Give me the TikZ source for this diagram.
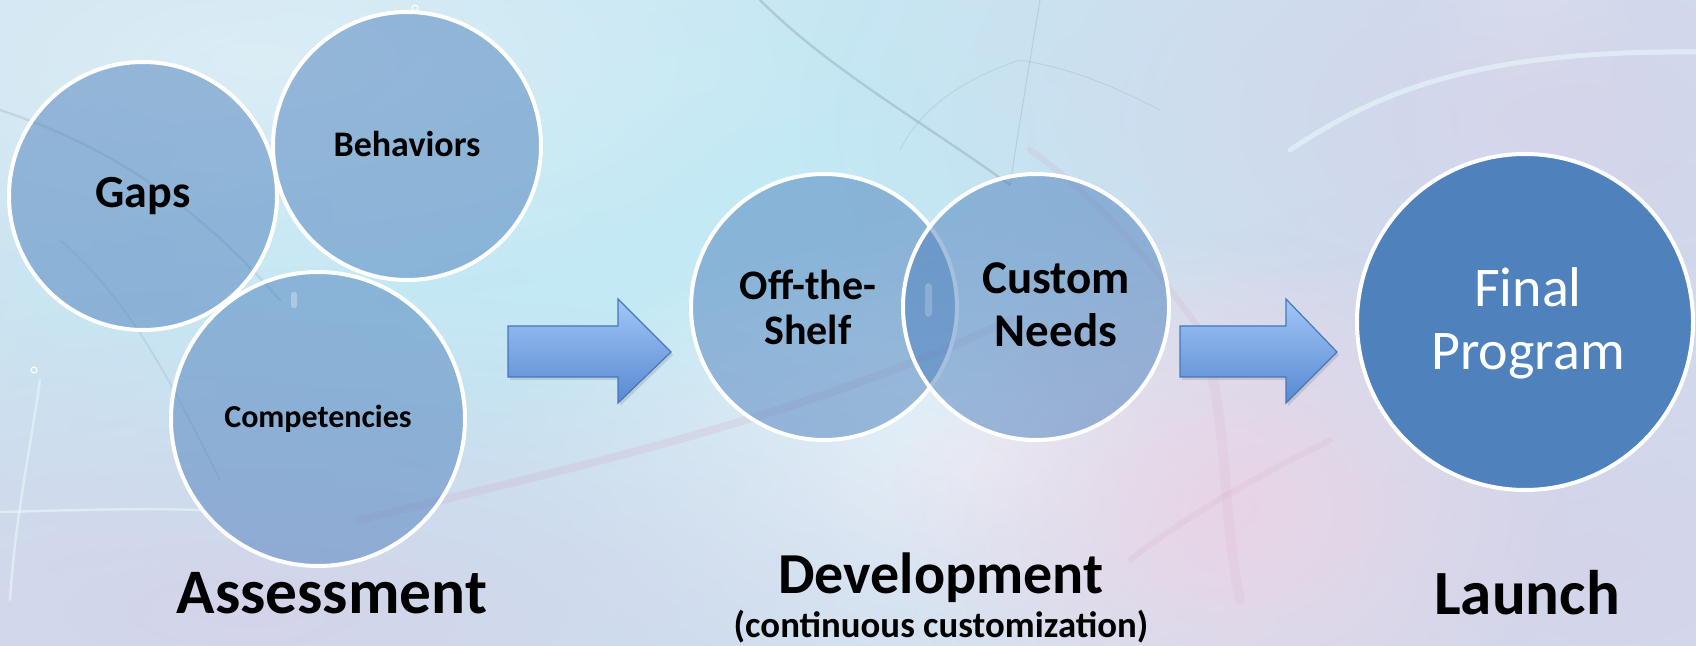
\documentclass[tikz,border=0pt]{standalone}
\usepackage{fontspec}
\setmainfont{Carlito}
\usetikzlibrary{fadings,shadows}

\definecolor{bgbase}{HTML}{D2E2F0}
\definecolor{officeblue}{HTML}{4F81BD}
\definecolor{arrowtop}{HTML}{A2C6F7}
\definecolor{arrowbot}{HTML}{5889D2}
\definecolor{arrowedge}{HTML}{4677BA}
\definecolor{hazecyan}{HTML}{C2EAF5}
\definecolor{hazelav}{HTML}{D4D4EA}
\definecolor{hazepink}{HTML}{E8D4E6}
\definecolor{hazewhite}{HTML}{EEF5FA}
\definecolor{fibergray}{HTML}{8096A8}
\definecolor{fiberpink}{HTML}{D6A6C6}
\definecolor{fibercyan}{HTML}{E6F8FC}

\tikzfading[name=softblob, inner color=transparent!0, outer color=transparent!100]

\begin{document}
\begin{tikzpicture}[x=0.5pt, y=-0.5pt,
  bubble/.style={circle, draw=white, line width=2pt, fill=officeblue, fill opacity=0.5, inner sep=0pt},
  solidbubble/.style={circle, draw=white, line width=2pt, fill=officeblue, inner sep=0pt},
  blockarrow/.style={draw=arrowedge, line width=0.6pt, top color=arrowtop, bottom color=arrowbot,
    drop shadow={shadow xshift=1pt, shadow yshift=-1.5pt, opacity=0.25}},
  lbl/.style={anchor=base, text=black, inner sep=0pt},
  mlbl/.style={anchor=center, text=black, inner sep=0pt, align=center},
  blob/.style={path fading=softblob},
  fiber/.style={line cap=round}]

\useasboundingbox (0,0) rectangle (1696,646);

% backdrop: soft cyan / lavender haze
\fill[bgbase] (0,0) rectangle (1696,646);
\begin{scope}
  \clip (0,0) rectangle (1696,646);
  \fill[hazecyan, blob] (820,200) ellipse [x radius=650pt, y radius=330pt];
  \fill[hazecyan, blob] (560,430) ellipse [x radius=350pt, y radius=220pt];
  \fill[hazewhite, blob, opacity=0.5] (260,60) ellipse [x radius=300pt, y radius=120pt];
  \fill[hazewhite, blob] (1000,470) ellipse [x radius=260pt, y radius=130pt];
  \fill[hazewhite, blob, opacity=0.7] (1530,80) ellipse [x radius=60pt, y radius=160pt];
  \fill[hazelav, blob] (1560,120) ellipse [x radius=380pt, y radius=220pt];
  \fill[hazelav, blob] (250,610) ellipse [x radius=500pt, y radius=160pt];
  \fill[hazelav, blob] (1600,560) ellipse [x radius=320pt, y radius=200pt];
  \fill[hazepink, blob] (1230,510) ellipse [x radius=170pt, y radius=140pt];

  % faint nerve fibres
  \draw[fiber, fibergray, line width=1.2pt, opacity=0.35] (760,0) .. controls (830,70) and (920,120) .. (1010,185);
  \draw[fiber, fibergray, line width=0.5pt, opacity=0.25] (1040,0) .. controls (1030,60) and (1020,120) .. (1010,185);
  \draw[fiber, fibergray, line width=0.5pt, opacity=0.2] (1020,60) .. controls (960,80) and (920,110) .. (900,150);
  \draw[fiber, fibergray, line width=0.5pt, opacity=0.2] (1020,60) .. controls (1080,70) and (1120,90) .. (1160,110);
  \draw[fiber, fibergray, line width=1.2pt, opacity=0.22] (0,110) .. controls (120,150) and (200,210) .. (280,300);
  \draw[fiber, fibergray, line width=1pt, opacity=0.18] (60,240) .. controls (130,300) and (170,380) .. (220,480);
  \draw[fiber, fiberpink, line width=4pt, opacity=0.22] (360,520) .. controls (560,470) and (800,420) .. (1010,320);
  \draw[fiber, fiberpink, line width=3pt, opacity=0.2] (1030,150) .. controls (1100,200) and (1150,260) .. (1200,330);
  \draw[fiber, fiberpink, line width=5pt, opacity=0.14] (1200,330) .. controls (1230,420) and (1220,500) .. (1240,600);
  \draw[fiber, fiberpink, line width=3pt, opacity=0.16] (1130,560) .. controls (1180,520) and (1250,480) .. (1330,440);
  \draw[fiber, fibercyan, line width=2.5pt, opacity=0.6] (1290,150) .. controls (1380,90) and (1480,50) .. (1696,52);
  \draw[fiber, fibercyan, line width=1.2pt, opacity=0.6] (0,512) .. controls (80,510) and (140,508) .. (200,510);
  \draw[fiber, fibercyan, line width=1.2pt, opacity=0.6] (40,380) .. controls (30,450) and (15,520) .. (10,600);
\end{scope}

% assessment cluster
\node[bubble, minimum size=134pt] (gaps) at (143,196) {};
\node[bubble, minimum size=134pt] (behaviors) at (407,146) {};
\node[bubble, minimum size=147pt] (competencies) at (318,419) {};
\fill[white, opacity=0.3, rounded corners=1.2pt] (291,292) rectangle (297,308);
\draw[white, line width=0.5pt] (415,8) circle [radius=1.5pt];
\draw[white, line width=0.5pt] (34,370) circle [radius=1.5pt];

\node[lbl, font=\fontsize{23}{27}\selectfont\bfseries] (tgaps) at (143,208) {Gaps};
\node[lbl, font=\fontsize{18}{22}\selectfont\bfseries] (tbehaviors) at (407,157) {Behaviors};
\node[lbl, font=\fontsize{16}{19}\selectfont\bfseries] (tcompetencies) at (318,428) {Competencies};

% development pair
\node[bubble, minimum size=133pt] (shelf) at (824,307) {};
\node[bubble, minimum size=133pt] (custom) at (1036,307) {};
\fill[white, opacity=0.2, rounded corners=2pt] (925,283) rectangle (932,317);
\node[mlbl, font=\fontsize{21}{22.5}\selectfont\bfseries] (tshelf) at (808,307) {Off-the-\\Shelf};
\node[mlbl, font=\fontsize{23.5}{26.5}\selectfont\bfseries] (tcustom) at (1056,305) {Custom\\Needs};

% launch
\node[solidbubble, minimum size=168pt] (final) at (1525,322) {};
\node[mlbl, text=white, font=\fontsize{28}{31.5}\selectfont] (tfinal) at (1528,323) {Final\\Program};

% block arrows between stages
\path[blockarrow] (508,326) -- (618,326) -- (618,299) -- (671,352) -- (618,403) -- (618,377) -- (508,377) -- cycle;
\path[blockarrow] (1180,326) -- (1286,326) -- (1286,299) -- (1337,352) -- (1286,403) -- (1286,377) -- (1180,377) -- cycle;

% stage titles
\node[lbl, font=\fontsize{31.7}{36}\selectfont\bfseries] (assessment) at (332,613) {Assessment};
\node[lbl, font=\fontsize{29}{33}\selectfont\bfseries] (development) at (941,593) {Development};
\node[lbl, font=\fontsize{18.4}{22}\selectfont\bfseries] (continuous) at (941,637) {(continuous customization)};
\node[lbl, font=\fontsize{31.5}{36}\selectfont\bfseries] (launch) at (1527,614) {Launch};

\end{tikzpicture}
\end{document}
